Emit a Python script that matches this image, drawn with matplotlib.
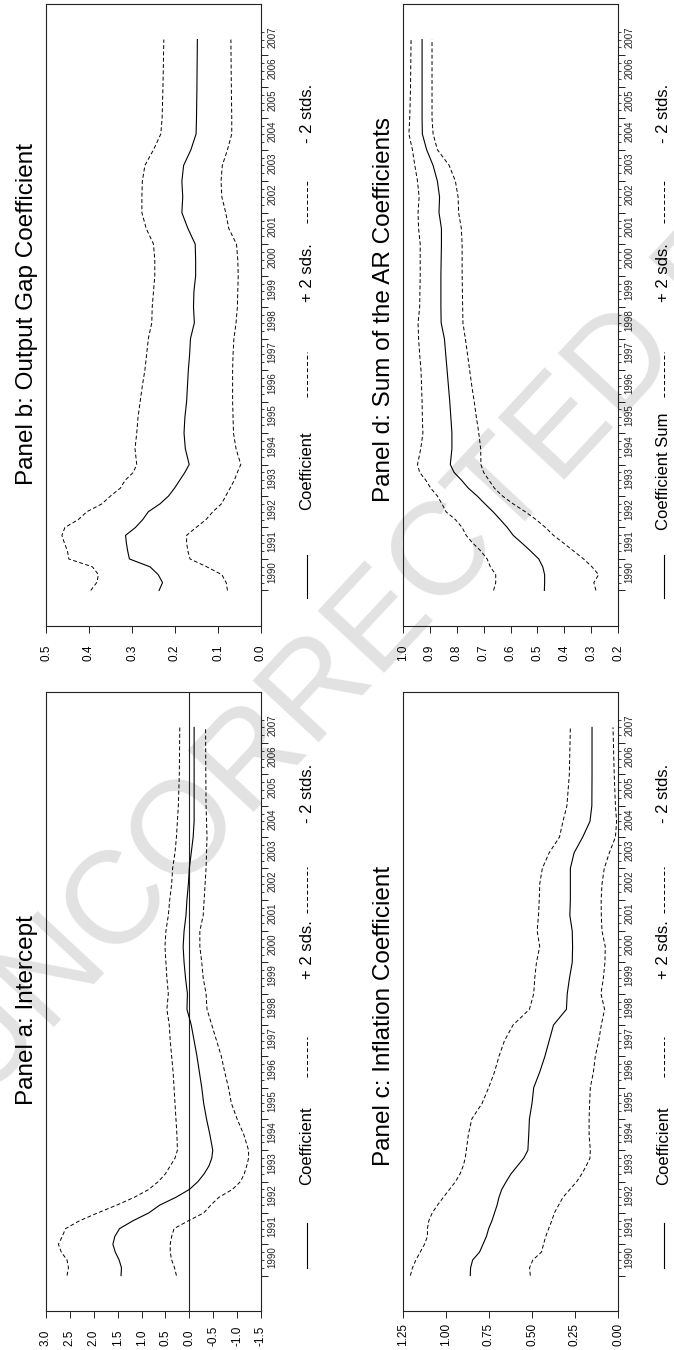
import numpy as np
import matplotlib
matplotlib.use("Agg")
import matplotlib.pyplot as plt
from matplotlib.lines import Line2D
from matplotlib.transforms import blended_transform_factory

plt.rcParams['font.family'] = ['Liberation Sans', 'DejaVu Sans']

# observation dates (quarterly early on, then half-yearly)
dates = [1990.0, 1990.25, 1990.5, 1990.75, 1991.0, 1991.25, 1991.5, 1991.75,
         1992.0, 1992.25, 1992.5, 1992.75, 1993.0, 1993.25, 1993.5, 1993.75,
         1994.0, 1994.5, 1995.0, 1995.5, 1996.0, 1996.5, 1997.0, 1997.5,
         1998.0, 1998.5, 1999.0, 1999.5, 2000.0, 2000.5, 2001.0, 2001.5,
         2002.0, 2002.5, 2003.0, 2003.5, 2004.0, 2004.5, 2005.0, 2006.0, 2007.5]

# panel a: intercept
intercept = [1.43, 1.42, 1.47, 1.55, 1.60, 1.56, 1.46, 1.18,
             0.85, 0.62, 0.28, 0.00, -0.18, -0.31, -0.41, -0.47,
             -0.49, -0.43, -0.36, -0.30, -0.26, -0.21, -0.16, -0.10,
             -0.04, 0.05, 0.04, 0.08, 0.11, 0.13, 0.11, 0.07,
             0.05, 0.02, 0.00, -0.04, -0.08, -0.10, -0.10, -0.10, -0.10]
intercept_hi = [2.56, 2.53, 2.56, 2.68, 2.74, 2.66, 2.59, 2.30,
                1.92, 1.52, 1.15, 0.85, 0.65, 0.50, 0.40, 0.30,
                0.25, 0.26, 0.28, 0.30, 0.32, 0.34, 0.37, 0.40,
                0.42, 0.47, 0.44, 0.47, 0.49, 0.51, 0.49, 0.44,
                0.41, 0.37, 0.35, 0.30, 0.27, 0.25, 0.23, 0.21, 0.20]
intercept_lo = [0.27, 0.31, 0.37, 0.40, 0.40, 0.37, 0.32, 0.02,
                -0.30, -0.45, -0.62, -0.90, -1.07, -1.15, -1.20, -1.24,
                -1.24, -1.14, -1.00, -0.88, -0.82, -0.74, -0.67, -0.57,
                -0.47, -0.37, -0.35, -0.29, -0.26, -0.22, -0.22, -0.29,
                -0.31, -0.33, -0.35, -0.36, -0.37, -0.36, -0.35, -0.345, -0.34]

# panel b: output gap coefficient
gap = [0.237, 0.229, 0.239, 0.258, 0.306, 0.310, 0.313, 0.315,
       0.292, 0.275, 0.262, 0.235, 0.215, 0.201, 0.189, 0.177,
       0.167, 0.176, 0.179, 0.177, 0.173, 0.171, 0.169, 0.166,
       0.164, 0.155, 0.157, 0.156, 0.152, 0.152, 0.153, 0.170,
       0.184, 0.182, 0.184, 0.180, 0.163, 0.151, 0.150, 0.149, 0.148]
gap_hi = [0.396, 0.382, 0.378, 0.392, 0.447, 0.450, 0.457, 0.463,
          0.456, 0.425, 0.405, 0.370, 0.350, 0.327, 0.316, 0.297,
          0.289, 0.293, 0.289, 0.286, 0.281, 0.276, 0.270, 0.266,
          0.262, 0.254, 0.253, 0.250, 0.247, 0.247, 0.250, 0.267,
          0.277, 0.277, 0.276, 0.270, 0.250, 0.233, 0.230, 0.228, 0.226]
gap_lo = [0.078, 0.081, 0.091, 0.126, 0.165, 0.170, 0.173, 0.173,
          0.151, 0.128, 0.112, 0.092, 0.082, 0.072, 0.062, 0.055,
          0.047, 0.058, 0.064, 0.065, 0.066, 0.066, 0.066, 0.065,
          0.063, 0.058, 0.055, 0.054, 0.053, 0.054, 0.057, 0.075,
          0.082, 0.091, 0.093, 0.090, 0.078, 0.068, 0.068, 0.069, 0.070]

# panel c: inflation coefficient
infl = [0.859, 0.857, 0.845, 0.805, 0.785, 0.765, 0.752, 0.733,
        0.718, 0.703, 0.692, 0.676, 0.650, 0.622, 0.585, 0.548,
        0.524, 0.519, 0.515, 0.500, 0.490, 0.455, 0.425, 0.400,
        0.375, 0.300, 0.295, 0.282, 0.266, 0.264, 0.266, 0.280,
        0.277, 0.277, 0.277, 0.255, 0.205, 0.163, 0.152, 0.151, 0.151]
infl_hi = [1.207, 1.195, 1.175, 1.150, 1.125, 1.108, 1.108, 1.100,
           1.080, 1.050, 1.015, 0.980, 0.945, 0.918, 0.900, 0.888,
           0.882, 0.870, 0.850, 0.790, 0.752, 0.718, 0.692, 0.660,
           0.610, 0.515, 0.490, 0.484, 0.474, 0.455, 0.470, 0.462,
           0.458, 0.455, 0.440, 0.400, 0.340, 0.320, 0.297, 0.283, 0.277]
infl_lo = [0.510, 0.514, 0.495, 0.445, 0.433, 0.420, 0.403, 0.385,
           0.370, 0.345, 0.320, 0.280, 0.240, 0.210, 0.185, 0.163,
           0.161, 0.168, 0.168, 0.165, 0.161, 0.143, 0.132, 0.112,
           0.097, 0.078, 0.099, 0.085, 0.076, 0.074, 0.093, 0.097,
           0.098, 0.093, 0.080, 0.050, 0.015, 0.008, 0.015, 0.022, 0.029]

# panel d: sum of the AR coefficients
arsum = [0.474, 0.473, 0.473, 0.480, 0.495, 0.525, 0.557, 0.590,
         0.612, 0.638, 0.665, 0.695, 0.724, 0.757, 0.782, 0.810,
         0.824, 0.818, 0.818, 0.822, 0.826, 0.831, 0.836, 0.841,
         0.846, 0.858, 0.859, 0.859, 0.859, 0.858, 0.857, 0.857,
         0.866, 0.864, 0.872, 0.888, 0.912, 0.928, 0.929, 0.929, 0.929]
arsum_hi = [0.663, 0.655, 0.655, 0.675, 0.687, 0.710, 0.740, 0.765,
            0.780, 0.805, 0.840, 0.855, 0.872, 0.897, 0.915, 0.938,
            0.946, 0.934, 0.926, 0.928, 0.929, 0.931, 0.933, 0.938,
            0.942, 0.944, 0.938, 0.937, 0.936, 0.936, 0.936, 0.942,
            0.944, 0.940, 0.946, 0.956, 0.965, 0.978, 0.975, 0.972, 0.970]
arsum_lo = [0.282, 0.290, 0.272, 0.297, 0.328, 0.365, 0.402, 0.440,
            0.470, 0.505, 0.545, 0.590, 0.630, 0.660, 0.680, 0.700,
            0.710, 0.711, 0.718, 0.727, 0.735, 0.744, 0.752, 0.760,
            0.768, 0.777, 0.778, 0.779, 0.780, 0.780, 0.780, 0.783,
            0.793, 0.795, 0.805, 0.828, 0.872, 0.888, 0.892, 0.892, 0.892]

years = list(range(1990, 2008))

W, H = 674, 1350
fig = plt.figure(figsize=(W / 100, H / 100), dpi=100)

DASH = (0, (4, 2.5))
INK = '#222222'


def px_box(x0, y0, x1, y1):
    # pixel rectangle (top-left origin) -> figure fraction rect
    return [x0 / W, 1 - y1 / H, (x1 - x0) / W, (y1 - y0) / H]


def draw_panel(rect, coef, hi, lo, xlim, xticks, xlabels, zero_line=False):
    ax = fig.add_axes(rect)
    ax.set_facecolor('none')
    if zero_line:
        ax.axvline(0, color=INK, lw=0.8)
    ax.plot(coef, dates, color='black', lw=0.8)
    ax.plot(hi, dates, color='black', lw=0.7, linestyle=DASH)
    ax.plot(lo, dates, color='black', lw=0.7, linestyle=DASH)
    ax.set_xlim(xlim)
    ax.set_ylim(1988.87, 2008.63)

    ax.set_xticks(xticks, labels=xlabels)
    ax.tick_params(axis='x', direction='out', length=5, width=0.7,
                   color=INK, labelsize=8.5, labelrotation=90, pad=20)
    for lab in ax.get_xticklabels():
        lab.set_verticalalignment('bottom')

    ax.yaxis.tick_right()
    ax.set_yticks(years, labels=[])
    ax.set_yticks([y + q / 4 for y in years for q in (1, 2, 3)], minor=True)
    ax.tick_params(axis='y', which='major', direction='out', length=5,
                   width=0.7, color=INK)
    ax.tick_params(axis='y', which='minor', direction='out', length=2.5,
                   width=0.6, color=INK)
    tr = blended_transform_factory(ax.transAxes, ax.transData)
    for y in years:
        ax.text(1.054, y + 0.58, str(y), transform=tr, rotation=90,
                ha='center', va='center', fontsize=7, color=INK)
    for s in ax.spines.values():
        s.set_color(INK)
        s.set_linewidth(0.8)
    return ax


axa = draw_panel(px_box(46, 692, 261, 1311), intercept, intercept_hi, intercept_lo,
                 (3.0, -1.5), [3.0, 2.5, 2.0, 1.5, 1.0, 0.5, 0.0, -0.5, -1.0, -1.5],
                 ['3.0', '2.5', '2.0', '1.5', '1.0', '0.5', '0.0', '-0.5', '-1.0', '-1.5'],
                 zero_line=True)
axb = draw_panel(px_box(46, 4, 261, 626), gap, gap_hi, gap_lo,
                 (0.5, 0.0), [0.5, 0.4, 0.3, 0.2, 0.1, 0.0],
                 ['0.5', '0.4', '0.3', '0.2', '0.1', '0.0'])
axc = draw_panel(px_box(403, 692, 618, 1311), infl, infl_hi, infl_lo,
                 (1.25, 0.0), [1.25, 1.0, 0.75, 0.5, 0.25, 0.0],
                 ['1.25', '1.00', '0.75', '0.50', '0.25', '0.00'])
axd = draw_panel(px_box(403, 4, 618, 626), arsum, arsum_hi, arsum_lo,
                 (1.0, 0.2), [1.0, 0.9, 0.8, 0.7, 0.6, 0.5, 0.4, 0.3, 0.2],
                 ['1.0', '0.9', '0.8', '0.7', '0.6', '0.5', '0.4', '0.3', '0.2'])

# panel titles, rotated like the rest of the page
titles = [('Panel b: Output Gap Coefficient', 27, 314),
          ('Panel d: Sum of the AR Coefficients', 384, 310),
          ('Panel a: Intercept', 27, 1010),
          ('Panel c: Inflation Coefficient', 384, 1016)]
for txt, x, y in titles:
    fig.text(x / W, 1 - y / H, txt, rotation=90, ha='center', va='center',
             fontsize=17.5, color='black')


# hand-made legends (line sample + label, stacked upwards)
def legend(x, first_label, rows):
    (s0, s1), c_lab, (d0, d1), p_lab, (e0, e1), m_lab = rows
    fig.add_artist(Line2D([x / W, x / W], [1 - s0 / H, 1 - s1 / H],
                          color='black', lw=0.8))
    fig.add_artist(Line2D([x / W, x / W], [1 - d0 / H, 1 - d1 / H],
                          color='black', lw=0.7, linestyle=DASH))
    fig.add_artist(Line2D([x / W, x / W], [1 - e0 / H, 1 - e1 / H],
                          color='black', lw=0.7, linestyle=DASH))
    for txt, yc in [(first_label, c_lab), ('+ 2 sds.', p_lab), ('- 2 stds.', m_lab)]:
        fig.text(x / W, 1 - yc / H, txt, rotation=90, ha='center', va='center',
                 fontsize=12, color='black')


top_rows = ((598, 555), 471, (397, 352), 273, (223, 180), 113)
bottom_rows = ((1268, 1223), 1146, (1077, 1037), 950, (913, 867), 793)
legend(307, 'Coefficient', top_rows)
legend(664, 'Coefficient Sum', top_rows)
legend(307, 'Coefficient', bottom_rows)
legend(664, 'Coefficient', bottom_rows)

# proof watermark behind everything
fig.text(480 / W, 1 - 520 / H, 'UNCORRECTED PROOF', rotation=47,
         ha='center', va='center', fontsize=95, color='#e2e2e2', zorder=-10)

fig.savefig('out.png', dpi=100)
